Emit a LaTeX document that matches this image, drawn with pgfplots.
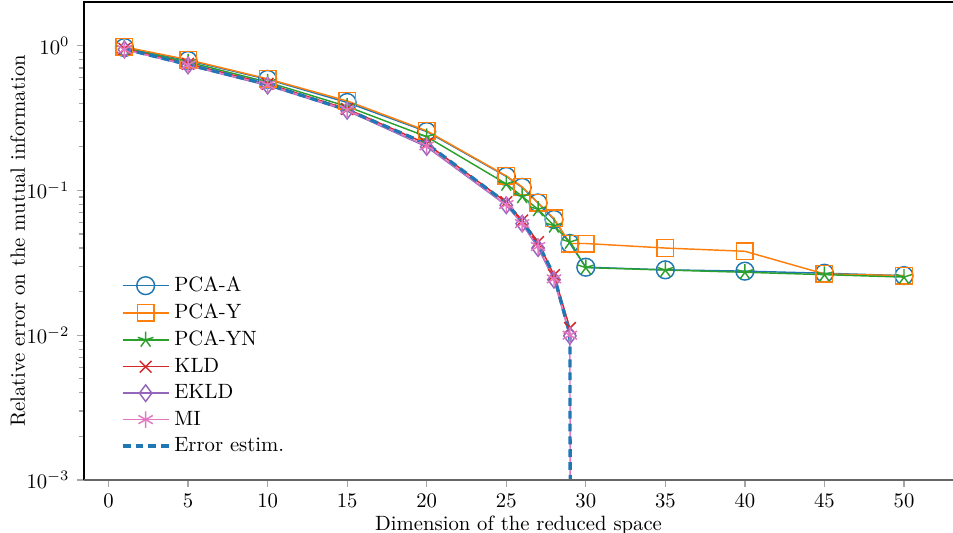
\documentclass[border=0pt]{standalone}
\usepackage{pgfplots}
\pgfplotsset{compat=1.18}
\definecolor{c0}{HTML}{1F77B4}
\definecolor{c1}{HTML}{FF7F0E}
\definecolor{c2}{HTML}{2CA02C}
\definecolor{c3}{HTML}{D62728}
\definecolor{c4}{HTML}{9467BD}
\definecolor{c6}{HTML}{E377C2}
\begin{document}
\begin{tikzpicture}
\begin{axis}[name=ax,
  scale only axis, width=420pt, height=231pt,
  ymode=log, xmin=-1.54, xmax=53.08, ymin=1e-3, ymax=2,
  axis line style={draw=none},
  tick align=outside, xtick pos=bottom, ytick pos=left,
  major tick length=3.5pt, minor tick length=2.5pt,
  tick style={gray!70, line width=0.6pt},
  xtick={0,5,...,50},
  xlabel={Dimension of the reduced space},
  ylabel={Relative error on the mutual information},
  xlabel style={yshift=3pt},
  ylabel style={yshift=-6.3pt},
  legend cell align=left,
  legend style={draw=none, fill=none, at={(0.035,0.035)}, anchor=south west, font=\normalsize, row sep=0.45pt},
  legend image code/.code={\draw[mark repeat=2,mark phase=2] plot coordinates {(0cm,0cm) (0.39cm,0cm) (0.78cm,0cm)};},
  every axis plot/.append style={line width=0.7pt},
]
\addplot[c0, mark=o, mark size=4.3pt, mark options={solid}] coordinates {
(1,0.97)(5,0.79)(10,0.585)(15,0.405)(20,0.255)(25,0.125)(26,0.105)(27,0.082)(28,0.063)(29,0.043)(30,0.0295)(35,0.0283)(40,0.0277)(45,0.0268)(50,0.0258)};
\addlegendentry{PCA-A}
\addplot[c1, mark=square, mark size=4pt, mark options={solid}] coordinates {
(1,0.98)(5,0.80)(10,0.59)(15,0.415)(20,0.258)(25,0.126)(26,0.106)(27,0.082)(28,0.064)(29,0.043)(30,0.043)(35,0.040)(40,0.038)(45,0.0265)(50,0.0258)};
\addlegendentry{PCA-Y}
\addplot[c2, mark=star, mark size=4pt, mark options={solid}] coordinates {
(1,0.96)(5,0.77)(10,0.56)(15,0.38)(20,0.235)(25,0.111)(26,0.091)(27,0.074)(28,0.057)(29,0.044)(30,0.0293)(35,0.0282)(40,0.0272)(45,0.0262)(50,0.0252)};
\addlegendentry{PCA-YN}
\addplot[c3, mark=x, mark size=4pt, mark options={solid}] coordinates {
(1,0.95)(5,0.75)(10,0.545)(15,0.365)(20,0.21)(25,0.083)(26,0.062)(27,0.044)(28,0.026)(29,0.0112)};
\addlegendentry{KLD}
\addplot[c4, mark=diamond, mark size=4pt, mark options={solid}] coordinates {
(1,0.94)(5,0.73)(10,0.53)(15,0.355)(20,0.20)(25,0.079)(26,0.059)(27,0.040)(28,0.0242)(29,0.0099)};
\addlegendentry{EKLD}
\addplot[c6, mark=asterisk, mark size=4pt, mark options={solid}] coordinates {
(1,0.94)(5,0.735)(10,0.535)(15,0.36)(20,0.203)(25,0.08)(26,0.059)(27,0.041)(28,0.0245)(29,0.01)(30,1e-60)};
\addlegendentry{MI}
\addplot[c0, line width=1.6pt, dash pattern=on 3.8pt off 2.4pt] coordinates {
(1,0.95)(5,0.74)(10,0.54)(15,0.36)(20,0.21)(25,0.082)(26,0.061)(27,0.043)(28,0.026)(29,0.0101)(30,1e-60)};
\addlegendentry{Error estim.}
\end{axis}
\draw[black, line width=0.8pt] (ax.south west)--(ax.north west)--(ax.north east);
\draw[gray!80!black, line width=0.8pt] (ax.south west)--(ax.south east);
\pgfresetboundingbox
\path[use as bounding box] ([xshift=-40.6pt,yshift=-25.6pt]ax.south west) rectangle ([yshift=1pt]ax.north east);
\end{tikzpicture}
\end{document}
